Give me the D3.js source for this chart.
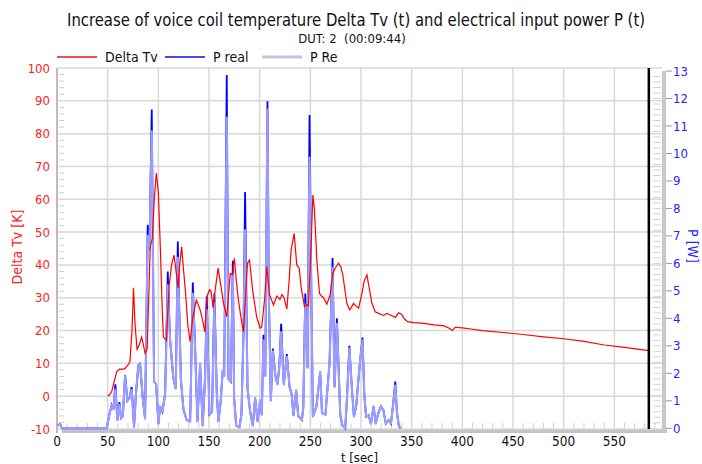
<!DOCTYPE html>
<html>
<head>
<meta charset="utf-8">
<script src="https://cdn.jsdelivr.net/npm/d3@7"></script>
<style>
  body { margin: 0; background: #fff; }
  svg { display: block; font-family: "Liberation Sans Narrow", "Arial Narrow", "DejaVu Sans Condensed", sans-serif; }
</style>
</head>
<body>
<div id="chart"></div>
<script>
// Delta Tv (K) over time (s)
const tvTime = [50,52,54,56,59,62,64,67,70,72,74,75.5,77,79,81,83.5,85,87,89,91,
  92,94,96,98,100,102,104,105,108,110.5,113,115.5,117.5,119.5,121,123,125,127,129,131.3,
  134,137.5,141,143,146,147.6,150.4,152,154,155.5,159,162,164.3,167.6,169,171,173,175,177,179,
  182,184,186,188,190,193,197,200.5,202,205,207,209.7,213.6,217,220,222,224,226.8,229,231,
  234,236.6,239,241,244.2,246,248,250,252.5,254,256.4,259,261,263,266.3,269.6,272.2,274.4,277.8,280,
  282,286,288.7,290.5,292.6,295,297.6,300.9,303,305.8,308.4,310.7,314,319,322,325.5,330,334,337,340,
  343,346,352,362,372,382,387,390,393,400,410,420,440,460,480,500,520,540,560,584];
const tvValue = [0,0.5,1.4,4,7.5,8.3,8.2,8.4,9.5,10.5,20,33,22,14.3,15.5,18,16,13,14.5,35,
  45.5,48,60,68,62,45,25,18,17,33,40,43,38,33,40,45.5,38,31,22,16.6,
  24,29.3,26.5,24.2,19.5,30,32.4,32,27,31,39,33,28.3,24.2,30,37.4,37,42,35,29.3,
  23,19.7,30,40.5,41.5,32.4,24.2,20.7,21,30,39.5,31,27.8,30.5,29.5,31,30,26.5,35,44.5,
  49.6,40,39,33,27.3,28,27.5,40,61.3,57,41.5,31.3,30.5,30,28,31,37.4,39,40.5,39.5,
  37,28.3,26.3,27,28.3,27.5,26.8,31.3,35,37,32.4,28.3,25.7,25,24.6,25.2,24.6,24,25.4,25,
  23.5,22.7,22.4,22.2,21.7,21.4,20.7,20,21,20.8,20.4,20,19.4,18.8,18.1,17.5,16.7,15.6,14.9,13.9];

// electrical power (W) over time (s)
const pTime = [0,3,5,49,51.7,54,55.7,57.6,59.6,61.6,
  63.2,64.9,67.2,69.5,71.4,73.7,76,78,80.3,82,
  84.6,86.9,89.5,91.2,93.5,95.8,97.8,100.1,101.7,104,
  106.7,109.3,111.6,114.9,117.2,119.2,122.2,124.8,128,131.4,
  134,136.3,138.6,141.2,143.8,146.1,147.8,150.4,153,155.3,
  157.7,159.3,161.5,163.5,165,167.5,169.2,171.5,173.5,174.8,
  176.8,180,182,184,185.6,188,190.6,193.2,195.5,197.9,
  200.5,202.1,203.7,205.5,207.7,209,211,213,215.3,217.5,
  219.3,221.2,223.8,226.8,229.5,231.5,233.4,236,238,240,
  241.6,243,245,247.2,249.2,251,252.5,256,259.7,261.5,
  264.9,266.5,268.9,271.9,273.9,276.2,279.5,281.5,284.4,286,
  288.5,290.9,293,295.2,297.5,299.2,301.5,303.2,305,307.5,
  309.8,312.4,314.5,317,319.6,322,324.5,327.2,329.5,331.5,
  333.8,335.5,337.3,338.7];
const pReal = [0.1,0.15,0,0,0.5,0.85,0.7,1.6,0.3,0.95,
  0.37,0.43,1.95,1.0,1.1,1.5,0.05,1.3,2.3,2.35,
  1.1,0.35,7.4,6.5,11.6,1.7,1.6,0.17,0.8,0.6,
  1.26,5.7,3.2,1.8,1.45,6.8,1.8,0.67,0.3,0.25,
  5.3,2.9,0.25,2.35,0.1,1.85,4.8,0.5,0.6,4.9,
  1.26,0.25,0.97,2.1,1.9,12.85,1.8,1.7,6.1,1.1,
  0.1,0.05,0.5,3.4,8.6,1.45,0.6,0.1,1.1,0.25,
  1.03,0.5,3.4,1.9,11.9,4.9,1.0,2.9,1.95,1.6,
  2.2,3.8,1.6,2.7,1.5,1.26,0.47,1.38,0.45,0.37,
  0.3,0.73,4.9,2.2,11.4,4.9,0.42,0.8,2.05,0.55,
  0.5,1.26,2.35,6.2,1.5,4.0,0.5,0.12,0,1.0,
  3.0,1.5,0.42,0.8,1.8,2.5,3.3,1.26,0.42,0.47,
  0.17,0.8,0.17,0.55,0.8,0.67,0.17,0.3,0.17,0.8,
  1.7,0.55,0.1,0];
const pRe = [0.1,0.15,0,0,0.5,0.85,0.7,1.4,0.3,0.85,
  0.37,0.43,1.9,1.0,1.1,1.4,0.05,1.3,2.3,2.35,
  1.1,0.35,7.0,6.5,10.8,1.7,1.6,0.17,0.8,0.6,
  1.26,5.2,3.2,1.8,1.45,6.2,1.8,0.67,0.3,0.25,
  4.9,2.9,0.25,2.35,0.1,1.85,4.3,0.5,0.6,4.55,
  1.26,0.25,0.97,2.1,1.9,11.3,1.8,1.7,5.6,1.1,
  0.1,0.05,0.5,3.4,7.2,1.45,0.6,0.1,1.1,0.25,
  1.03,0.5,3.2,1.9,11.6,4.9,1.0,2.8,1.95,1.6,
  2.2,3.5,1.6,2.6,1.5,1.26,0.47,1.38,0.45,0.37,
  0.3,0.73,4.5,2.2,9.85,4.9,0.42,0.8,2.05,0.55,
  0.5,1.26,2.35,5.85,1.5,3.8,0.5,0.12,0,1.0,
  2.9,1.5,0.42,0.8,1.8,2.5,3.2,1.26,0.42,0.47,
  0.17,0.8,0.17,0.55,0.8,0.67,0.17,0.3,0.17,0.8,
  1.55,0.55,0.1,0];

const xTicks = [0,50,100,150,200,250,300,350,400,450,500,550];
const tvTicks = [-10,0,10,20,30,40,50,60,70,80,90,100];
const pTicks = [0,1,2,3,4,5,6,7,8,9,10,11,12,13];
const endTime = 584;

const w = 702, h = 464;
const pLeft = 57, pRight = 662, pTop = 68, pBottom = 429;

let svg = d3.select("#chart").append("svg").attr("width", w).attr("height", h);

let x = d3.scaleLinear().domain([0, 597]).range([pLeft, pRight]);
let yT = d3.scaleLinear().domain([-10, 100]).range([pBottom, pTop]);
let yP = d3.scaleLinear().domain([0, 13]).range([428.3, 71]);

// shadow bars
svg.append("rect").attr("x", pLeft + 5).attr("y", pBottom).attr("width", pRight - pLeft).attr("height", 4).attr("fill", "#c4c4c4");
svg.append("rect").attr("x", pRight).attr("y", yP(13)).attr("width", 4).attr("height", pBottom + 4 - yP(13)).attr("fill", "#c8c8c8");

// grid
svg.append("g").selectAll("line").data(tvTicks).enter().append("line")
  .attr("x1", pLeft).attr("x2", pRight)
  .attr("y1", d => yT(d)).attr("y2", d => yT(d))
  .attr("stroke", "#d8d8d8").attr("stroke-width", 1.5);
svg.append("g").selectAll("line").data(xTicks).enter().append("line")
  .attr("x1", d => x(d)).attr("x2", d => x(d))
  .attr("y1", pTop).attr("y2", pBottom)
  .attr("stroke", "#d8d8d8").attr("stroke-width", 1.5);

// minor ticks
let minorX = d3.range(10, 597, 10).filter(d => d % 50 != 0);
svg.append("g").selectAll("line").data(minorX).enter().append("line")
  .attr("x1", d => x(d)).attr("x2", d => x(d))
  .attr("y1", pBottom - 6).attr("y2", pBottom)
  .attr("stroke", "#d0d0d0").attr("stroke-width", 1);
let minorT = d3.range(-8, 100, 2).filter(d => d % 10 != 0);
svg.append("g").selectAll("line").data(minorT).enter().append("line")
  .attr("x1", pLeft + 2).attr("x2", pLeft + 7)
  .attr("y1", d => yT(d)).attr("y2", d => yT(d))
  .attr("stroke", "#d0d0d0").attr("stroke-width", 1);
let minorP = d3.range(0.2, 13, 0.2);
svg.append("g").selectAll("line").data(minorP).enter().append("line")
  .attr("x1", pRight - 9).attr("x2", pRight - 1)
  .attr("y1", d => yP(d)).attr("y2", d => yP(d))
  .attr("stroke", "#d4d4d4").attr("stroke-width", 1);

// left axis line
svg.append("line").attr("x1", pLeft).attr("x2", pLeft).attr("y1", pTop).attr("y2", pBottom + 4)
  .attr("stroke", "#c9b8b8").attr("stroke-width", 2);

// series
let tvData = tvTime.map((t, i) => [t, tvValue[i]]);
let realData = pTime.map((t, i) => [t, pReal[i]]);
let reData = pTime.map((t, i) => [t, pRe[i]]);

let lineT = d3.line().x(d => x(d[0])).y(d => yT(d[1]));
let lineP = d3.line().x(d => x(d[0])).y(d => yP(d[1]));

svg.append("path").datum(realData).attr("d", lineP)
  .attr("fill", "none").attr("stroke", "#0000ff").attr("stroke-width", 1.8);
svg.append("path").datum(reData).attr("d", lineP)
  .attr("fill", "none").attr("stroke", "#9a9cff").attr("stroke-width", 2.2)
  .attr("stroke-linejoin", "round");
svg.append("path").datum(tvData).attr("d", lineT)
  .attr("fill", "none").attr("stroke", "#ff0000").attr("stroke-width", 1.2);

// end of measurement
svg.append("line").attr("x1", x(endTime)).attr("x2", x(endTime)).attr("y1", pTop).attr("y2", pBottom)
  .attr("stroke", "#000").attr("stroke-width", 2.5);

// tick labels
svg.append("g").selectAll("text").data(tvTicks).enter().append("text")
  .attr("x", pLeft - 7).attr("y", d => yT(d)).attr("dy", "0.35em")
  .attr("text-anchor", "end").attr("font-size", 13).attr("fill", "#ff2020")
  .text(d => d);
svg.append("g").selectAll("line").data(pTicks).enter().append("line")
  .attr("x1", pRight + 4).attr("x2", pRight + 10)
  .attr("y1", d => yP(d)).attr("y2", d => yP(d))
  .attr("stroke", "#9090d0").attr("stroke-width", 1);
svg.append("g").selectAll("text").data(pTicks).enter().append("text")
  .attr("x", pRight + 11).attr("y", d => yP(d)).attr("dy", "0.35em")
  .attr("text-anchor", "start").attr("font-size", 13).attr("fill", "#2424ff")
  .text(d => d);
svg.append("g").selectAll("text").data(xTicks).enter().append("text")
  .attr("x", d => x(d)).attr("y", 446)
  .attr("text-anchor", "middle").attr("font-size", 13.5).attr("fill", "#111")
  .text(d => d);

// titles
svg.append("text").attr("x", 356).attr("y", 26).attr("text-anchor", "middle")
  .attr("font-size", 17.5).attr("fill", "#111")
  .attr("textLength", 578).attr("lengthAdjust", "spacingAndGlyphs")
  .text("Increase of voice coil temperature Delta Tv (t) and electrical input power P (t)");
svg.append("text").attr("x", 352).attr("y", 43).attr("text-anchor", "middle")
  .attr("font-size", 13).attr("fill", "#111").style("white-space", "pre")
  .text("DUT: 2  (00:09:44)");
svg.append("text").attr("x", (pLeft + pRight) / 2).attr("y", 461.5).attr("text-anchor", "middle")
  .attr("font-size", 13).attr("fill", "#111").text("t [sec]");
svg.append("text").attr("transform", "translate(22,247) rotate(-90)").attr("text-anchor", "middle")
  .attr("font-size", 14).attr("fill", "#ff2020").text("Delta Tv [K]");
svg.append("text").attr("transform", "translate(688,246) rotate(90)").attr("text-anchor", "middle")
  .attr("font-size", 14).attr("fill", "#2424ff").text("P [W]");

// legend
let legendItems = [
  {label: "Delta Tv", color: "#f05050", width: 2, x: 57},
  {label: "P real", color: "#4848f0", width: 2, x: 165},
  {label: "P Re", color: "#c4c6e0", width: 3, x: 262}
];
let legend = svg.append("g").selectAll("g").data(legendItems).enter().append("g");
legend.append("line")
  .attr("x1", d => d.x).attr("x2", d => d.x + 40)
  .attr("y1", 57).attr("y2", 57)
  .attr("stroke", d => d.color).attr("stroke-width", d => d.width);
legend.append("text")
  .attr("x", d => d.x + 48).attr("y", 62)
  .attr("font-size", 14).attr("fill", "#111")
  .text(d => d.label);
</script>
</body>
</html>
